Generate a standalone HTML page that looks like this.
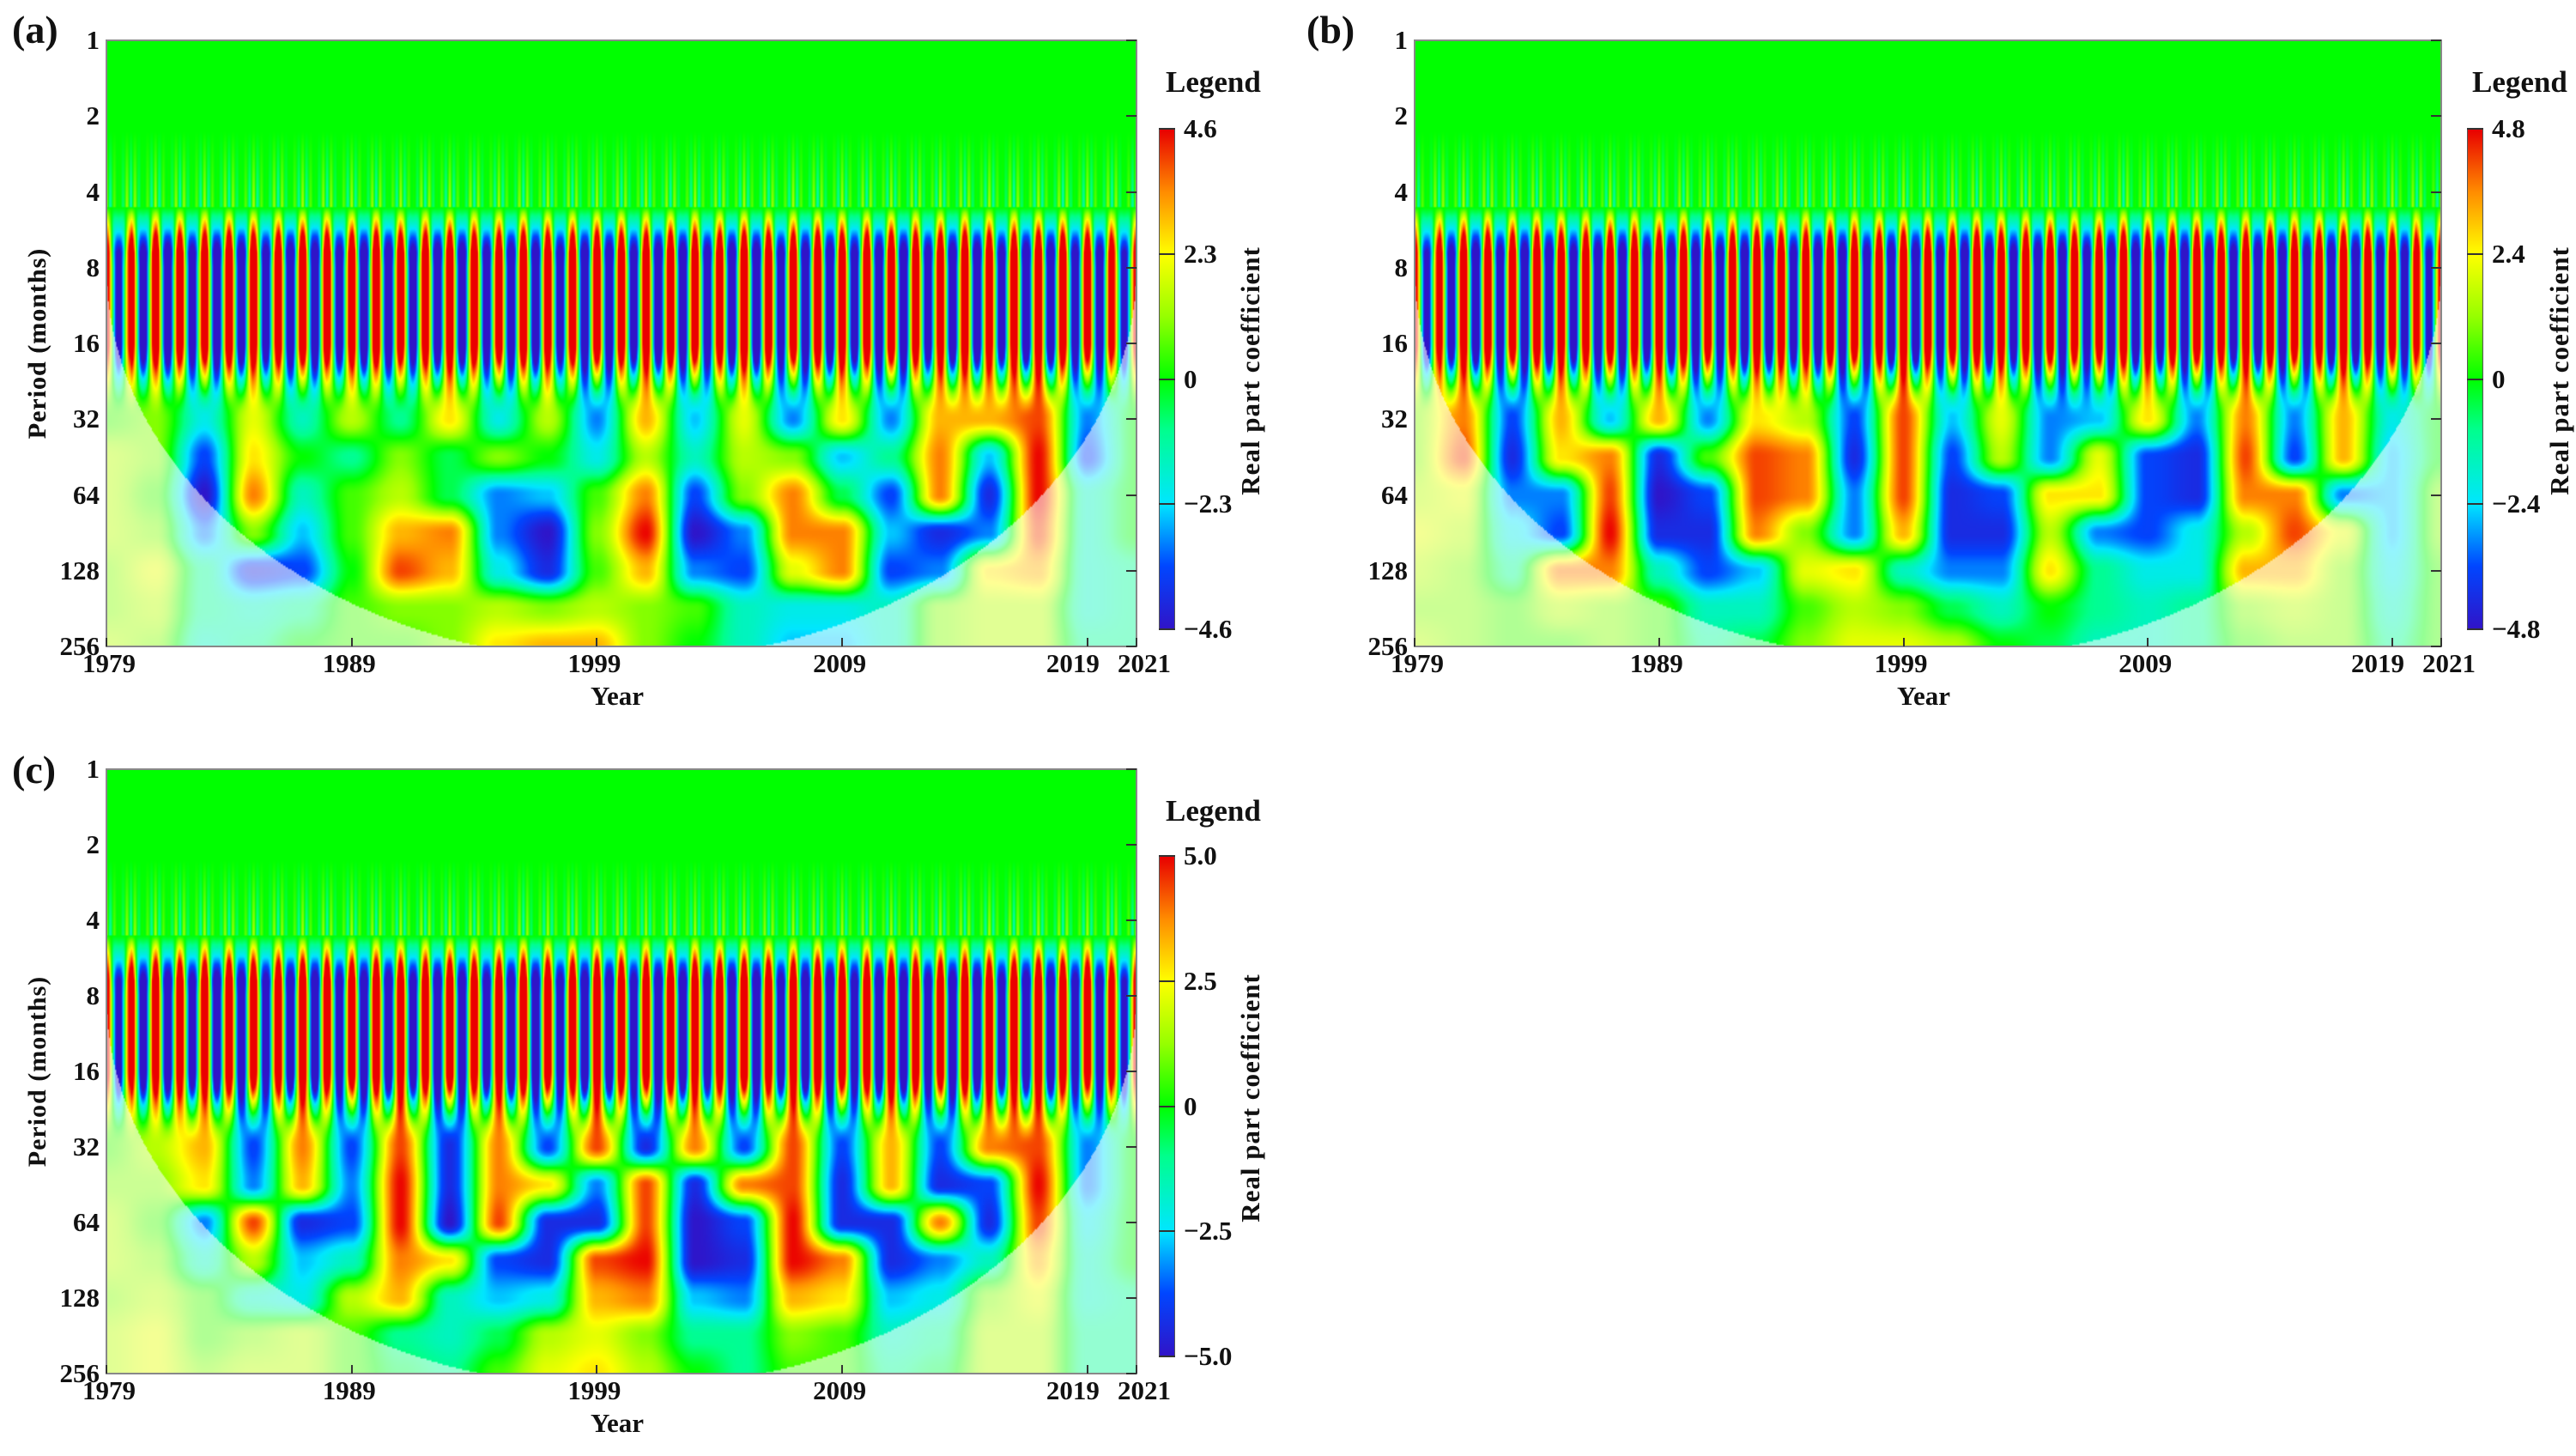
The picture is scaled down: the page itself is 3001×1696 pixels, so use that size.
<!DOCTYPE html>
<html><head><meta charset="utf-8">
<style>
html,body{margin:0;padding:0;background:#fff;}
body{width:3001px;height:1696px;position:relative;overflow:hidden;font-family:"Liberation Serif",serif;font-weight:bold;color:#111;}
.abs{position:absolute;}
canvas.hm{position:absolute;image-rendering:auto;}
.frame{position:absolute;border:2px solid #888;box-sizing:border-box;}
.lbl{position:absolute;font-size:31px;white-space:nowrap;font-family:"Liberation Serif",serif;}
.plabel{position:absolute;font-size:46px;font-family:"Liberation Serif",serif;}
.leg{position:absolute;font-size:35px;font-family:"Liberation Serif",serif;}
.rot{position:absolute;font-size:30px;white-space:nowrap;transform:translate(-50%,-50%) rotate(-90deg);font-family:"Liberation Serif",serif;letter-spacing:1px;}
.rot2{position:absolute;font-size:31px;white-space:nowrap;transform:translate(-50%,-50%) rotate(-90deg);font-family:"Liberation Serif",serif;letter-spacing:1px;}
.tick{position:absolute;background:#333;}
</style></head>
<body>
<div id="root"></div>
<script>
// ---------- data ----------
const gridYears = [1979,1981,1983,1985,1987,1989,1991,1993,1995,1997,1999,2001,2003,2005,2007,2009,2011,2013,2015,2017,2019,2021];
const gridPeriodsLog2 = [4.5,5,5.5,6,6.5,7,7.5,8];
const periodTicks = [1,2,4,8,16,32,64,128,256];
const yearTicks = [1979,1989,1999,2009,2019,2021];
const cbarLabelsA = ["4.6","2.3","0","\u22122.3","\u22124.6"];
const cbarLabelsB = ["4.8","2.4","0","\u22122.4","\u22124.8"];
const cbarLabelsC = ["5.0","2.5","0","\u22122.5","\u22125.0"];
const gridA = [
[0.3,-0.5,0.6,-0.6,0.5,-0.6,0.7,-0.5,0.6,-0.7,0.5,-0.6,0.7,-0.5,0.6,-0.6,0.5,-0.6,0.7,-0.5,0.9,-0.3],
[0.1,0.2,-0.4,0.4,-0.3,0.3,-0.2,0.5,-0.4,0.3,-0.6,0.6,-0.5,0.4,-0.6,0.5,-0.6,0.6,0.6,0.8,-0.6,0],
[0.3,0.2,-0.7,0.5,0.0,-0.2,0.2,-0.1,0.2,0.0,-0.4,0.3,-0.3,0.3,0.2,-0.5,-0.2,0.7,-0.5,0.9,-0.7,0],
[0.3,0.1,-0.9,0.7,-0.3,0.1,0.3,-0.1,-0.6,-0.5,0.1,0.7,-0.7,0.2,0.7,-0.1,-0.7,0.7,-0.8,0.9,-0.3,0],
[0.3,0.2,-0.6,0.2,-0.5,0.1,0.6,0.7,-0.6,-0.9,0.2,0.9,-0.9,-0.6,0.7,0.7,-0.5,-0.8,-0.6,0.8,-0.3,0],
[0.2,0.4,-0.2,-0.8,-0.7,0,0.8,0.6,-0.4,-0.8,0.1,0.6,-0.6,-0.7,0.4,0.7,-0.7,-0.6,0.5,0.6,-0.3,-0.2],
[0.2,0.3,-0.2,-0.3,-0.2,0.1,0.2,0.2,0.3,0.2,0.3,0.2,0.1,-0.3,-0.4,-0.4,-0.3,0.2,0.3,0.3,-0.3,-0.2],
[0.3,0.2,-0.3,-0.2,0.0,0.1,0.1,0.2,0.5,0.6,0.6,0.2,0.0,-0.3,-0.5,-0.5,-0.3,0.2,0.3,0.3,-0.2,-0.2]];
const gridB = [
[0.3,-0.5,0.6,-0.6,0.5,-0.6,0.7,-0.5,0.6,-0.7,0.5,-0.6,0.7,-0.5,0.6,-0.6,0.5,-0.6,0.7,-0.5,0.9,-0.3],
[0.2,0.7,-0.7,0.6,-0.5,0.6,-0.6,0.5,0.3,-0.7,0.8,-0.5,0.4,-0.6,-0.5,0.5,-0.6,0.7,-0.6,0.6,-0.4,0],
[0.2,0.8,-0.8,0.5,0.7,-0.8,0.1,0.8,0.7,-0.8,0.8,-0.7,0.3,-0.6,0.4,-0.7,-0.8,0.8,-0.7,0.6,-0.5,0],
[0.3,0.4,-0.6,-0.6,0.8,-0.9,-0.7,0.8,0.7,-0.6,0.8,-0.8,-0.7,0.5,0.5,-0.7,-0.8,0.7,0.7,-0.6,-0.5,0.2],
[0.4,0.3,-0.4,-0.7,0.9,-0.8,-0.8,0.7,0.2,-0.6,0.6,-0.8,-0.8,0.3,-0.6,-0.7,-0.4,0.3,0.8,0.4,-0.5,0.2],
[0.3,0.2,-0.2,0.7,0.7,-0.3,-0.7,-0.5,0.4,0.5,-0.3,-0.6,-0.6,0.5,-0.2,-0.4,-0.4,0.6,0.6,0.2,-0.4,0.1],
[0.2,0.2,0.1,0.3,0.2,0.1,-0.3,-0.3,0.1,0.3,0.2,-0.1,-0.3,0.0,-0.2,-0.3,-0.2,0.2,0.3,0.2,-0.3,0.1],
[0.3,0.2,0.1,0.1,0.2,0.1,-0.2,-0.1,0.2,0.4,0.4,0.3,0.0,-0.1,-0.3,-0.3,-0.2,0.1,0.2,0.2,-0.2,0.1]];
const gridC = [
[0.3,-0.5,0.6,-0.6,0.5,-0.6,0.7,-0.5,0.6,-0.7,0.5,-0.6,0.7,-0.5,0.6,-0.6,0.5,-0.6,0.7,-0.5,0.9,-0.3],
[0.1,0.3,0.6,-0.7,0.7,-0.7,0.8,-0.8,0.7,-0.7,0.8,-0.8,0.7,-0.7,0.8,-0.7,0.6,-0.7,0.7,0.8,-0.6,0],
[0.2,0.2,0.5,-0.6,0.6,-0.6,0.9,-0.8,0.7,0.5,-0.6,0.8,-0.8,0.7,0.8,-0.8,0.6,-0.8,-0.7,0.9,-0.6,0],
[0.3,0.1,-0.6,0.8,-0.8,-0.7,0.9,-0.9,0.8,-0.8,-0.8,0.8,-0.9,-0.7,0.9,-0.8,-0.8,0.7,-0.8,0.8,-0.4,0],
[0.3,0.2,-0.3,0.3,-0.5,-0.3,0.7,0.5,-0.7,-0.8,0.8,0.9,-0.9,-0.8,0.9,0.7,-0.8,-0.6,-0.3,0.6,-0.3,0],
[0.2,0.3,0.1,-0.3,-0.4,0.3,0.6,-0.3,-0.5,-0.4,0.6,0.7,-0.5,-0.6,0.6,0.5,-0.5,-0.4,0.2,0.4,-0.3,-0.2],
[0.3,0.4,0.1,0.2,0.3,0.1,-0.2,-0.3,-0.1,0.3,0.4,0.2,-0.2,-0.2,0.2,0.1,-0.3,-0.2,0.3,0.3,-0.2,-0.2],
[0.3,0.4,0.2,0.3,0.3,0.1,-0.1,-0.2,0.1,0.4,0.5,0.3,0.0,-0.2,0.1,0.1,-0.2,-0.1,0.3,0.3,-0.2,-0.2]];
// annual-cycle amplitude (8-16 month band), one per year 1979..2020
const annualAmp = [1.2,1.4,1.5,1.4,1.5,1.5,1.4,1.5,1.5,1.4,1.5,1.5,1.4,1.5,1.5,1.4,1.5,1.5,1.4,1.5,1.5,1.4,1.5,1.5,1.4,1.5,1.5,1.4,1.5,1.5,1.4,1.5,1.5,1.4,1.5,1.5,1.4,1.5,1.5,1.4,1.4,1.2];

// ---------- helpers ----------
const Y0=1979, Y1=2021;
const stops=[[-1,[48,20,200]],[-0.75,[0,70,255]],[-0.5,[0,230,255]],[-0.2,[0,255,140]],[0,[0,255,0]],[0.25,[150,255,0]],[0.5,[255,255,0]],[0.75,[255,140,0]],[1,[235,0,0]]];
function cmap(v){v=Math.max(-1,Math.min(1,v));for(let i=1;i<stops.length;i++){if(v<=stops[i][0]){const a=stops[i-1],b=stops[i];const f=(v-a[0])/(b[0]-a[0]);return [0,1,2].map(k=>a[1][k]+(b[1][k]-a[1][k])*f);}}return stops[stops.length-1][1];}
function gridVal(grid,t,p){
  let fx=(t-gridYears[0])/(gridYears[gridYears.length-1]-gridYears[0])*(gridYears.length-1);
  fx=Math.max(0,Math.min(gridYears.length-1.0001,fx));
  let fy=(p-gridPeriodsLog2[0])/(gridPeriodsLog2[gridPeriodsLog2.length-1]-gridPeriodsLog2[0])*(gridPeriodsLog2.length-1);
  fy=Math.max(0,Math.min(gridPeriodsLog2.length-1.0001,fy));
  const i=Math.floor(fx),j=Math.floor(fy),dx=fx-i,dy=fy-j;
  const sx=dx*dx*(3-2*dx), sy=dy*dy*(3-2*dy);
  const a=grid[j][i]*(1-sx)+grid[j][i+1]*sx, b=grid[j+1][i]*(1-sx)+grid[j+1][i+1]*sx;
  return (a*(1-sy)+b*sy)*1.1;
}
function stripeVal(t,p){
  const yi=Math.max(0,Math.min(annualAmp.length-1,Math.floor(t-Y0)));
  const amp=annualAmp[yi];
  if(p<1.2) return 0;
  if(p<2.2){
    const s=Math.cos(2*Math.PI*(t-Y0)*3)*Math.cos(2*Math.PI*(t-Y0)*0.5);
    return (p-1.2)/1.0*0.3*s;
  }
  const r=Math.min(1,(p-2.2)/0.6);
  const s=Math.cos(2*Math.PI*(t-Y0));
  const fine=p<3?Math.cos(2*Math.PI*(t-Y0)*2)*(3-p)*0.5:0;
  return amp*r*(s+fine);
}
function value(grid,t,p){
  if(p<4) return stripeVal(t,p);
  if(p<5){const f=(p-4);const sf=f*f*(3-2*f);return stripeVal(t,4)*(1-sf)*(1-0.5*f)+gridVal(grid,t,Math.max(p,5))*sf;}
  return gridVal(grid,t,p);
}
function mk(tag,cls,name,inter,parent){const e=document.createElement(tag);if(cls)e.className=cls;


(parent||document.body).appendChild(e);return e;}

function panel(cfg){
  const {L,T,R,B,grid,letter,letterX,letterY,cbX,cbT,cbB,labels,legX,legY,realX,tag}=cfg;
  const W=R-L,H=B-T;
  const cv=mk('canvas','hm','heatmap-'+tag,'false');
  const cw=840,ch=360;cv.width=cw;cv.height=ch;
  cv.style.left=L+'px';cv.style.top=T+'px';cv.style.width=W+'px';cv.style.height=H+'px';
  const ctx=cv.getContext('2d');const img=ctx.createImageData(cw,ch);
  for(let y=0;y<ch;y++){const p=(y+0.5)/ch*8;
    for(let x=0;x<cw;x++){const xf=(x+0.5)/cw;const t=Y0+xf*(Y1-Y0);
      let c=cmap(value(grid,t,p));
      const dx=(xf-0.5)/0.5, dp=(p-3)/5.2;
      if(p>3 && dx*dx+dp*dp>1){c=c.map(v=>v*0.42+255*0.58);}
      const k=(y*cw+x)*4;img.data[k]=c[0];img.data[k+1]=c[1];img.data[k+2]=c[2];img.data[k+3]=255;}}
  ctx.putImageData(img,0,0);
  const fr=mk('div','frame','plot-frame-'+tag,'false');
  fr.style.left=(L-1)+'px';fr.style.top=(T-1)+'px';fr.style.width=(W+2)+'px';fr.style.height=(H+2)+'px';
  periodTicks.forEach((v,i)=>{const y=T+Math.log2(v)/8*H;
    const l=mk('div','lbl','y-tick-label-'+tag,'false');l.textContent=v;
    l.style.right=(3001-L+8)+'px';l.style.top=(y-18)+'px';
    const tk=mk('div','tick','y-tick-'+tag,'false');tk.style.left=(R-12)+'px';tk.style.top=(y-1)+'px';tk.style.width='12px';tk.style.height='2px';
  });
  yearTicks.forEach(v=>{const x=L+(v-Y0)/(Y1-Y0)*W;
    const l=mk('div','lbl','x-tick-label-'+tag,'false');l.textContent=v;
    let off=-34; if(v===2019) off=-48; if(v===2021) off=-22; if(v===1979) off=-28;
    l.style.left=(x+off)+'px';l.style.top=(B+2)+'px';
    const tk=mk('div','tick','x-tick-'+tag,'false');tk.style.left=(x-1)+'px';tk.style.top=(B-10)+'px';tk.style.width='2px';tk.style.height='10px';
  });
  const xt=mk('div','lbl','x-axis-title-'+tag,'false');xt.textContent='Year';xt.style.left=(L+W/2-36)+'px';xt.style.top=(B+40)+'px';
  const yt=mk('div','rot','y-axis-title-'+tag,'false');yt.textContent='Period (months)';yt.style.left='44px';yt.style.top=(T+H/2)+'px';
  const pl=mk('div','plabel','panel-label-'+tag,'false');pl.textContent=letter;pl.style.left=letterX+'px';pl.style.top=letterY+'px';
  const lg=mk('div','leg','legend-title-'+tag,'false');lg.textContent='Legend';lg.style.left=legX+'px';lg.style.top=legY+'px';
  const cb=mk('div','abs','colorbar-'+tag,'false');
  cb.style.left=cbX+'px';cb.style.top=cbT+'px';cb.style.width='19px';cb.style.height=(cbB-cbT)+'px';cb.style.border='1px solid #555';cb.style.boxSizing='border-box';
  cb.style.background='linear-gradient(to bottom,#e80000 0%,#ff8c00 12.5%,#ffff00 25%,#96ff00 37.5%,#00ff00 50%,#00ff8c 60%,#00e6ff 75%,#0046ff 87.5%,#3014c8 100%)';
  labels.forEach((s,i)=>{const y=cbT+i/4*(cbB-cbT);
    const l=mk('div','lbl','colorbar-label-'+tag,'false');l.textContent=s;l.style.left=(cbX+29)+'px';l.style.top=(y-18)+'px';
    const tk=mk('div','tick','colorbar-tick-'+tag,'false');tk.style.left=cbX+'px';tk.style.top=(y-1)+'px';tk.style.width='19px';tk.style.height='2px';});
  const rp=mk('div','rot2','colorbar-title-'+tag,'false');rp.textContent='Real part coefficient';rp.style.left=realX+'px';rp.style.top=((cbT+cbB)/2-10)+'px';
}
panel({tag:'a',L:124,T:47,R:1324,B:753,grid:gridA,letter:'(a)',letterX:14,letterY:8,cbX:1350,cbT:150,cbB:733,labels:cbarLabelsA,legX:1358,legY:76,realX:1457});
panel({tag:'b',L:1648,T:47,R:2844,B:753,grid:gridB,letter:'(b)',letterX:1522,letterY:8,cbX:2874,cbT:150,cbB:733,labels:cbarLabelsB,legX:2880,legY:76,realX:2982});
panel({tag:'c',L:124,T:896,R:1324,B:1600,grid:gridC,letter:'(c)',letterX:14,letterY:870,cbX:1350,cbT:997,cbB:1580,labels:cbarLabelsC,legX:1358,legY:925,realX:1457});
</script>
</body></html>
